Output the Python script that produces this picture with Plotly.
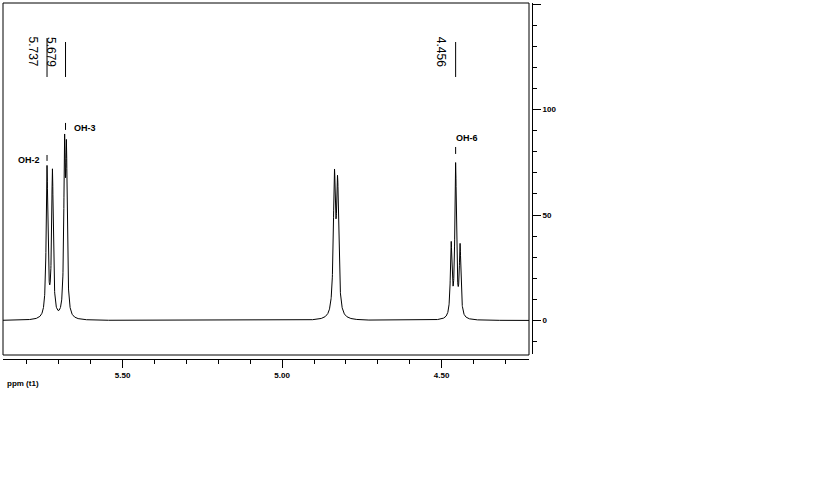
import numpy as np
import plotly.graph_objects as go

# ---- data ----
# individual resonance lines: position (ppm), height (a.u.), linewidth (ppm, FWHM)
peak_ppm = [5.737, 5.720, 5.682, 5.676, 4.836, 4.826, 4.470, 4.456, 4.442]
peak_height = [71.0, 69.0, 75.0, 72.0, 63.5, 60.0, 34.0, 72.0, 33.0]
peak_width = [0.0062, 0.0062, 0.0055, 0.0055, 0.0080, 0.0080, 0.0060, 0.0060, 0.0060]

picked_ppm = [5.737, 5.679, 4.456]
picked_labels = ["5.737", "5.679", "4.456"]

assign_ppm = [5.737, 5.679, 4.456]
assign_labels = ["OH-2", "OH-3", "OH-6"]

x_range = [5.875, 4.226]
y_range = [-15.9, 150.6]
x_major_ticks = [5.50, 5.00, 4.50]
y_tick_vals = [0, 50, 100, 150]
y_tick_text = ["0", "50", "100", ""]

# ---- spectrum trace from line list ----
ppm = np.linspace(x_range[0], x_range[1], 6000)
intensity = np.zeros_like(ppm)
for p, h, w in zip(peak_ppm, peak_height, peak_width):
    intensity += h / (1.0 + ((ppm - p) / (w / 2.0)) ** 2)

fig = go.Figure()
fig.add_trace(go.Scatter(x=ppm, y=intensity, mode="lines",
                         line=dict(color="black", width=1), hoverinfo="skip",
                         showlegend=False))

tickfont = dict(family="Arial, Liberation Sans, sans-serif", size=8, color="black", weight="bold")

W, H = 819, 499
left, right_axis, frame_right = 3, 532, 529
top, xaxis_line, frame_bottom, yaxis_bottom = 3, 359, 355, 354
pw = right_axis - left
ph = xaxis_line - top

fig.update_layout(
    width=W, height=H,
    margin=dict(l=left, r=W - right_axis, t=top, b=H - xaxis_line, pad=0),
    paper_bgcolor="white", plot_bgcolor="white",
    showlegend=False,
    xaxis=dict(
        domain=[0, (frame_right - left) / pw],
        anchor="free", position=0,
        range=x_range, autorange=False,
        showgrid=False, zeroline=False,
        showline=True, linecolor="black", linewidth=1,
        ticks="outside", ticklen=8, tickwidth=1, tickcolor="black",
        tickmode="array", tickvals=x_major_ticks,
        ticktext=[f"{v:.2f}" for v in x_major_ticks],
        tickfont=tickfont,
        minor=dict(tickmode="linear", tick0=0, dtick=0.1, ticks="outside",
                   ticklen=4, tickwidth=1, tickcolor="black", showgrid=False),
    ),
    yaxis=dict(
        domain=[(xaxis_line - yaxis_bottom) / ph, 1],
        anchor="free", position=1, side="right",
        range=y_range, autorange=False,
        showgrid=False, zeroline=False,
        showline=True, linecolor="black", linewidth=1,
        ticks="outside", ticklen=8, tickwidth=1, tickcolor="black",
        tickmode="array", tickvals=y_tick_vals, ticktext=y_tick_text,
        tickfont=tickfont,
        minor=dict(tickmode="linear", tick0=0, dtick=10, ticks="outside",
                   ticklen=4, tickwidth=1, tickcolor="black", showgrid=False),
    ),
)

# frame around the spectrum area
fig.add_shape(type="rect", xref="paper", yref="paper",
              x0=0, x1=(frame_right - left) / pw,
              y0=(xaxis_line - frame_bottom) / ph, y1=1,
              line=dict(color="black", width=1))

# peak-pick lines and rotated ppm labels
pick_tops = [134.0, 132.1, 132.1]
for p, lab, yt in zip(picked_ppm, picked_labels, pick_tops):
    fig.add_shape(type="line", xref="x", yref="y", x0=p, x1=p, y0=yt, y1=115.5,
                  line=dict(color="black", width=1))
    fig.add_annotation(x=p, y=127.6, xref="x", yref="y", text=lab, showarrow=False,
                       textangle=90, xshift=-15, xanchor="center", yanchor="middle",
                       font=dict(family="Arial, Liberation Sans, sans-serif", size=12, color="black"))

# assignment labels with small markers above peaks
dash_y = [(78.5, 75.7), (93.7, 90.4), (82.3, 79.0)]
lab_y = [76.1, 91.3, 86.6]
lab_shift = [-18, 19, 11]
for p, lab, (y0, y1), ly, sh in zip(assign_ppm, assign_labels, dash_y, lab_y, lab_shift):
    fig.add_shape(type="line", xref="x", yref="y", x0=p, x1=p, y0=y0, y1=y1,
                  line=dict(color="black", width=1))
    fig.add_annotation(x=p, y=ly, xref="x", yref="y", text=lab, showarrow=False,
                       xshift=sh, xanchor="center", yanchor="middle",
                       font=dict(family="Arial, Liberation Sans, sans-serif", size=9,
                                 color="black", weight="bold"))

# axis title at bottom left
fig.add_annotation(x=(5 - left) / pw, y=(xaxis_line - 383) / ph, xref="paper", yref="paper",
                   text="ppm (t1)", showarrow=False, xanchor="left", yanchor="middle",
                   font=tickfont)

fig.write_html("out.html",
               config={"displayModeBar": False},
               post_script="document.body.style.margin='0';document.body.style.overflow='hidden';")
